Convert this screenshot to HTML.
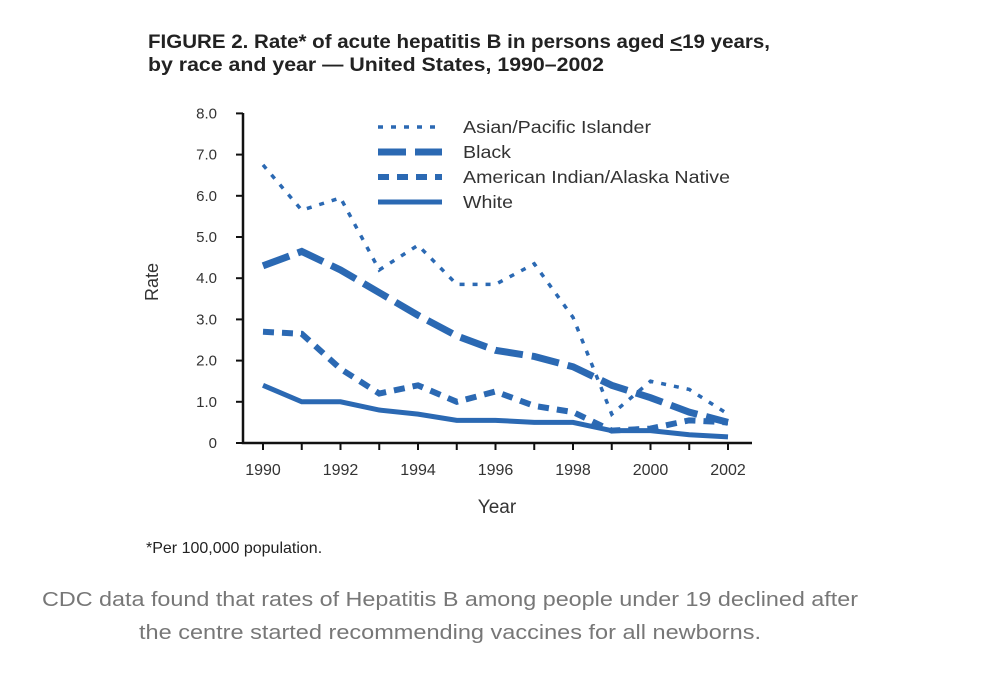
<!DOCTYPE html>
<html><head><meta charset="utf-8"><style>
body{margin:0;background:#fff;width:1000px;height:680px;overflow:hidden;font-family:"Liberation Sans",sans-serif}
</style></head><body>
<svg width="1000" height="680" xmlns="http://www.w3.org/2000/svg">
<text x="148" y="48" font-size="19" font-weight="bold" fill="#222" textLength="622" lengthAdjust="spacingAndGlyphs">FIGURE 2. Rate* of acute hepatitis B in persons aged <tspan text-decoration="underline">&lt;</tspan>19 years,</text>
<text x="148" y="71" font-size="19" font-weight="bold" fill="#222" textLength="456" lengthAdjust="spacingAndGlyphs">by race and year — United States, 1990–2002</text>
<g id="axes"></g>
<g id="series"></g>
<g id="legend"></g>
<text x="158" y="282" font-size="18" fill="#333" transform="rotate(-90 158 282)" text-anchor="middle">Rate</text>
<text x="497" y="513" font-size="19" fill="#333" text-anchor="middle">Year</text>
<text x="146" y="553" font-size="16" fill="#222">*Per 100,000 population.</text>
<text x="450" y="606" font-size="20" fill="#777" text-anchor="middle" textLength="816" lengthAdjust="spacingAndGlyphs">CDC data found that rates of Hepatitis B among people under 19 declined after</text>
<text x="450" y="639" font-size="20" fill="#777" text-anchor="middle" textLength="622" lengthAdjust="spacingAndGlyphs">the centre started recommending vaccines for all newborns.</text>
</svg>
<script>
const years=[1990,1991,1992,1993,1994,1995,1996,1997,1998,1999,2000,2001,2002];
const asian=[6.75,5.65,5.95,4.2,4.8,3.85,3.85,4.35,3.05,0.7,1.5,1.3,0.7];
const black=[4.3,4.65,4.2,3.65,3.1,2.6,2.25,2.1,1.85,1.4,1.1,0.75,0.5];
const aian=[2.7,2.65,1.8,1.2,1.4,1.0,1.25,0.9,0.75,0.3,0.35,0.55,0.5];
const white=[1.4,1.0,1.0,0.8,0.7,0.55,0.55,0.5,0.5,0.3,0.3,0.2,0.15];
const yTicks=[0,1,2,3,4,5,6,7,8];
const yTickLabels=["0","1.0","2.0","3.0","4.0","5.0","6.0","7.0","8.0"];
const xTickLabels=[1990,1992,1994,1996,1998,2000,2002];
const NS="http://www.w3.org/2000/svg";
const x=v=>263+(v-1990)*38.75;
const y=v=>443-v*41.2;
function mk(tag,attrs,parent){const e=document.createElementNS(NS,tag);for(const k in attrs)e.setAttribute(k,attrs[k]);parent.appendChild(e);return e;}
const ax=document.getElementById('axes');
let l=mk('path',{d:`M243,113 V443 H752`,stroke:'#111','stroke-width':2.5,fill:'none'},ax);


yTicks.forEach((t,i)=>{
 const tk=mk('line',{x1:236,x2:243,y1:y(t),y2:y(t),stroke:'#111','stroke-width':2},ax);
 
 
 const tx=mk('text',{x:217,y:y(t)+5,'font-size':15,fill:'#333','text-anchor':'end'},ax);
 tx.textContent=yTickLabels[i];
 
 
});
years.forEach(v=>{
 const tk=mk('line',{x1:x(v),x2:x(v),y1:443,y2:450,stroke:'#111','stroke-width':2},ax);
 
 
});
xTickLabels.forEach(v=>{
 const tx=mk('text',{x:x(v),y:475,'font-size':16,fill:'#333','text-anchor':'middle'},ax);
 tx.textContent=v;
 
 
});
const C='#2b69b3';
const styles=[
 {name:'Asian/Pacific Islander',data:asian,w:3.5,dash:'5 8',key:'asian',tl:188},
 {name:'Black',data:black,w:7,dash:'28 9',key:'black',tl:48},
 {name:'American Indian/Alaska Native',data:aian,w:6,dash:'11 8',key:'aian',tl:267},
 {name:'White',data:white,w:5,dash:'none',key:'white',tl:50}];
const sg=document.getElementById('series'),lg=document.getElementById('legend');
styles.forEach((s,i)=>{
 const p=mk('path',{d:s.data.map((v,j)=>(j?'L':'M')+x(years[j])+','+y(v)).join(''),stroke:C,'stroke-width':s.w,fill:'none','stroke-dasharray':s.dash},sg);
 
 
 const ly=132+i*25;
 const ll=mk('line',{x1:378,x2:442,y1:ly-5,y2:ly-5,stroke:C,'stroke-width':s.w,'stroke-dasharray':s.dash},lg);
 
 
 const lt=mk('text',{x:463,y:ly+1,'font-size':17.5,fill:'#333',textLength:s.tl,lengthAdjust:'spacingAndGlyphs'},lg);
 lt.textContent=s.name;
 
 
});
</script>
</body></html>
